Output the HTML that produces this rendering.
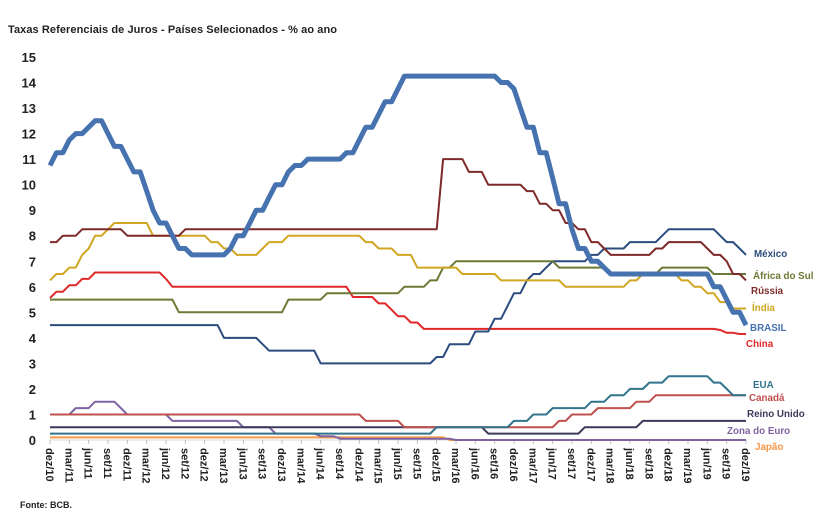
<!DOCTYPE html>
<html><head><meta charset="utf-8">
<style>
html,body{margin:0;padding:0;background:#fff;}
svg{display:block;font-family:"Liberation Sans",sans-serif;}
</style></head>
<body>
<svg id="chart" width="828" height="523" viewBox="0 0 828 523">
<text x="8" y="33" font-size="11" font-weight="bold" fill="#222" textLength="329">Taxas Referenciais de Juros - Países Selecionados - % ao ano</text>
<text x="20" y="508" font-size="9" font-weight="bold" fill="#222">Fonte: BCB.</text>
<g id="yaxis"></g>
<g id="xaxis"></g>
<g id="series"></g>
<g id="labels"></g>
</svg>
<script>
const months = ["dez","jan","fev","mar","abr","mai","jun","jul","ago","set","out","nov"];
const yTicks = [0,1,2,3,4,5,6,7,8,9,10,11,12,13,14,15];

const brasil = [10.75,
11.25,11.25,11.75,12,12,12.25,12.5,12.5,12,11.5,11.5,11,
10.5,10.5,9.75,9,8.5,8.5,8,7.5,7.5,7.25,7.25,7.25,
7.25,7.25,7.25,7.5,8,8,8.5,9,9,9.5,10,10,
10.5,10.75,10.75,11,11,11,11,11,11,11.25,11.25,11.75,
12.25,12.25,12.75,13.25,13.25,13.75,14.25,14.25,14.25,14.25,14.25,14.25,
14.25,14.25,14.25,14.25,14.25,14.25,14.25,14.25,14.25,14,14,13.75,
13,12.25,12.25,11.25,11.25,10.25,9.25,9.25,8.25,7.5,7.5,7,
7,6.75,6.5,6.5,6.5,6.5,6.5,6.5,6.5,6.5,6.5,6.5,
6.5,6.5,6.5,6.5,6.5,6.5,6,6,5.5,5,5,4.5];

const russia = [7.75,
7.75,8,8,8,8.25,8.25,8.25,8.25,8.25,8.25,8.25,8,
8,8,8,8,8,8,8,8,8.25,8.25,8.25,8.25,
8.25,8.25,8.25,8.25,8.25,8.25,8.25,8.25,8.25,8.25,8.25,8.25,
8.25,8.25,8.25,8.25,8.25,8.25,8.25,8.25,8.25,8.25,8.25,8.25,
8.25,8.25,8.25,8.25,8.25,8.25,8.25,8.25,8.25,8.25,8.25,8.25,
11,11,11,11,10.5,10.5,10.5,10,10,10,10,10,
10,9.75,9.75,9.25,9.25,9,9,8.5,8.5,8.25,8.25,7.75,
7.75,7.5,7.25,7.25,7.25,7.25,7.25,7.25,7.25,7.5,7.5,7.75,
7.75,7.75,7.75,7.75,7.75,7.5,7.25,7.25,7,6.5,6.5,6.25];

const india = [6.25,
6.5,6.5,6.75,6.75,7.25,7.5,8,8,8.25,8.5,8.5,8.5,
8.5,8.5,8.5,8,8,8,8,8,8,8,8,8,
7.75,7.75,7.5,7.5,7.25,7.25,7.25,7.25,7.5,7.75,7.75,7.75,
8,8,8,8,8,8,8,8,8,8,8,8,
7.75,7.75,7.5,7.5,7.5,7.25,7.25,7.25,6.75,6.75,6.75,6.75,
6.75,6.75,6.75,6.5,6.5,6.5,6.5,6.5,6.5,6.25,6.25,6.25,
6.25,6.25,6.25,6.25,6.25,6.25,6.25,6,6,6,6,6,
6,6,6,6,6,6.25,6.25,6.5,6.5,6.5,6.5,6.5,
6.5,6.25,6.25,6,6,5.75,5.75,5.4,5.4,5.15,5.15,5.15];

const china = [5.56,
5.81,5.81,6.06,6.06,6.31,6.31,6.56,6.56,6.56,6.56,6.56,6.56,
6.56,6.56,6.56,6.56,6.56,6.31,6,6,6,6,6,6,
6,6,6,6,6,6,6,6,6,6,6,6,
6,6,6,6,6,6,6,6,6,6,5.6,5.6,
5.6,5.6,5.35,5.35,5.1,4.85,4.85,4.6,4.6,4.35,4.35,4.35,
4.35,4.35,4.35,4.35,4.35,4.35,4.35,4.35,4.35,4.35,4.35,4.35,
4.35,4.35,4.35,4.35,4.35,4.35,4.35,4.35,4.35,4.35,4.35,4.35,
4.35,4.35,4.35,4.35,4.35,4.35,4.35,4.35,4.35,4.35,4.35,4.35,
4.35,4.35,4.35,4.35,4.35,4.35,4.35,4.31,4.2,4.2,4.15,4.15];

const africa = [5.5,
5.5,5.5,5.5,5.5,5.5,5.5,5.5,5.5,5.5,5.5,5.5,5.5,
5.5,5.5,5.5,5.5,5.5,5.5,5.5,5,5,5,5,5,
5,5,5,5,5,5,5,5,5,5,5,5,
5.5,5.5,5.5,5.5,5.5,5.5,5.75,5.75,5.75,5.75,5.75,5.75,
5.75,5.75,5.75,5.75,5.75,5.75,6,6,6,6,6.25,6.25,
6.75,6.75,7,7,7,7,7,7,7,7,7,7,
7,7,7,7,7,7,6.75,6.75,6.75,6.75,6.75,6.75,
6.75,6.75,6.5,6.5,6.5,6.5,6.5,6.5,6.5,6.5,6.75,6.75,
6.75,6.75,6.75,6.75,6.75,6.75,6.5,6.5,6.5,6.5,6.5,6.5];

const mexico = [4.5,
4.5,4.5,4.5,4.5,4.5,4.5,4.5,4.5,4.5,4.5,4.5,4.5,
4.5,4.5,4.5,4.5,4.5,4.5,4.5,4.5,4.5,4.5,4.5,4.5,
4.5,4.5,4,4,4,4,4,4,3.75,3.5,3.5,3.5,
3.5,3.5,3.5,3.5,3.5,3,3,3,3,3,3,3,
3,3,3,3,3,3,3,3,3,3,3,3.25,
3.25,3.75,3.75,3.75,3.75,4.25,4.25,4.25,4.75,4.75,5.25,5.75,
5.75,6.25,6.5,6.5,6.75,7,7,7,7,7,7,7.25,
7.25,7.5,7.5,7.5,7.5,7.75,7.75,7.75,7.75,7.75,8,8.25,
8.25,8.25,8.25,8.25,8.25,8.25,8.25,8,7.75,7.75,7.5,7.25];

const eua = [0.25,
0.25,0.25,0.25,0.25,0.25,0.25,0.25,0.25,0.25,0.25,0.25,0.25,
0.25,0.25,0.25,0.25,0.25,0.25,0.25,0.25,0.25,0.25,0.25,0.25,
0.25,0.25,0.25,0.25,0.25,0.25,0.25,0.25,0.25,0.25,0.25,0.25,
0.25,0.25,0.25,0.25,0.25,0.25,0.25,0.25,0.25,0.25,0.25,0.25,
0.25,0.25,0.25,0.25,0.25,0.25,0.25,0.25,0.25,0.25,0.25,0.5,
0.5,0.5,0.5,0.5,0.5,0.5,0.5,0.5,0.5,0.5,0.5,0.75,
0.75,0.75,1,1,1,1.25,1.25,1.25,1.25,1.25,1.25,1.5,
1.5,1.5,1.75,1.75,1.75,2,2,2,2.25,2.25,2.25,2.5,
2.5,2.5,2.5,2.5,2.5,2.5,2.25,2.25,2,1.75,1.75,1.75];

const canada = [1,
1,1,1,1,1,1,1,1,1,1,1,1,
1,1,1,1,1,1,1,1,1,1,1,1,
1,1,1,1,1,1,1,1,1,1,1,1,
1,1,1,1,1,1,1,1,1,1,1,1,
0.75,0.75,0.75,0.75,0.75,0.75,0.5,0.5,0.5,0.5,0.5,0.5,
0.5,0.5,0.5,0.5,0.5,0.5,0.5,0.5,0.5,0.5,0.5,0.5,
0.5,0.5,0.5,0.5,0.5,0.5,0.75,0.75,1,1,1,1,
1.25,1.25,1.25,1.25,1.25,1.25,1.5,1.5,1.5,1.75,1.75,1.75,
1.75,1.75,1.75,1.75,1.75,1.75,1.75,1.75,1.75,1.75,1.75,1.75];

const reinoUnido = [0.5,
0.5,0.5,0.5,0.5,0.5,0.5,0.5,0.5,0.5,0.5,0.5,0.5,
0.5,0.5,0.5,0.5,0.5,0.5,0.5,0.5,0.5,0.5,0.5,0.5,
0.5,0.5,0.5,0.5,0.5,0.5,0.5,0.5,0.5,0.5,0.5,0.5,
0.5,0.5,0.5,0.5,0.5,0.5,0.5,0.5,0.5,0.5,0.5,0.5,
0.5,0.5,0.5,0.5,0.5,0.5,0.5,0.5,0.5,0.5,0.5,0.5,
0.5,0.5,0.5,0.5,0.5,0.5,0.5,0.25,0.25,0.25,0.25,0.25,
0.25,0.25,0.25,0.25,0.25,0.25,0.25,0.25,0.25,0.25,0.5,0.5,
0.5,0.5,0.5,0.5,0.5,0.5,0.5,0.75,0.75,0.75,0.75,0.75,
0.75,0.75,0.75,0.75,0.75,0.75,0.75,0.75,0.75,0.75,0.75,0.75];

const zonaEuro = [1,
1,1,1,1.25,1.25,1.25,1.5,1.5,1.5,1.5,1.25,1,
1,1,1,1,1,1,0.75,0.75,0.75,0.75,0.75,0.75,
0.75,0.75,0.75,0.75,0.75,0.5,0.5,0.5,0.5,0.5,0.25,0.25,
0.25,0.25,0.25,0.25,0.25,0.15,0.15,0.15,0.05,0.05,0.05,0.05,
0.05,0.05,0.05,0.05,0.05,0.05,0.05,0.05,0.05,0.05,0.05,0.05,
0.05,0.05,0,0,0,0,0,0,0,0,0,0,
0,0,0,0,0,0,0,0,0,0,0,0,
0,0,0,0,0,0,0,0,0,0,0,0,
0,0,0,0,0,0,0,0,0,0,0,0];

const japao = [0.1,
0.1,0.1,0.1,0.1,0.1,0.1,0.1,0.1,0.1,0.1,0.1,0.1,
0.1,0.1,0.1,0.1,0.1,0.1,0.1,0.1,0.1,0.1,0.1,0.1,
0.1,0.1,0.1,0.1,0.1,0.1,0.1,0.1,0.1,0.1,0.1,0.1,
0.1,0.1,0.1,0.1,0.1,0.1,0.1,0.1,0.1,0.1,0.1,0.1,
0.1,0.1,0.1,0.1,0.1,0.1,0.1,0.1,0.1,0.1,0.1,0.1,
0.1,0,0,0,0,0,0,0,0,0,0,0,
0,0,0,0,0,0,0,0,0,0,0,0,
0,0,0,0,0,0,0,0,0,0,0,0,
0,0,0,0,0,0,0,0,0,0,0,0];

const seriesDefs = [
 {name:"japao", label:"Japão", data:japao, color:"#f79646", w:2, lx:755, ly:450},
 {name:"zona-do-euro", label:"Zona do Euro", data:zonaEuro, color:"#8064a2", w:2, lx:727, ly:434},
 {name:"reino-unido", label:"Reino Unido", data:reinoUnido, color:"#3c3a5a", w:2, lx:747, ly:417},
 {name:"canada", label:"Canadá", data:canada, color:"#c0504d", w:2, lx:749, ly:401},
 {name:"eua", label:"EUA", data:eua, color:"#31748c", w:2, lx:753, ly:388},
 {name:"china", label:"China", data:china, color:"#e02828", w:2, lx:746, ly:347},
 {name:"mexico", label:"México", data:mexico, color:"#2b4c7e", w:2, lx:754, ly:257},
 {name:"africa-do-sul", label:"África do Sul", data:africa, color:"#6b7a36", w:2, lx:753, ly:279},
 {name:"india", label:"Índia", data:india, color:"#d1a623", w:2, lx:752, ly:311},
 {name:"russia", label:"Rússia", data:russia, color:"#7f2a2a", w:2, lx:751, ly:294},
 {name:"brasil", label:"BRASIL", data:brasil, color:"#4673b0", w:5, lx:750, ly:331}
];

const X0 = 50, X1 = 746, Y0 = 440, Y15 = 57;
const N = brasil.length - 1;
function xs(i){ return X0 + (X1 - X0) * i / N; }
function ys(v){ return Y0 - (Y0 - Y15) * v / 15; }
const NS = "http://www.w3.org/2000/svg";
function mk(tag, attrs, parent){
  const e = document.createElementNS(NS, tag);
  for (const k in attrs) e.setAttribute(k, attrs[k]);
  parent.appendChild(e);
  return e;
}
const yaxis = document.getElementById("yaxis");
yTicks.forEach(v=>{
  const t = mk("text",{x:36,y:ys(v)+5,"text-anchor":"end","font-size":"13","font-weight":"bold",fill:"#222"},yaxis);
  
  
  t.textContent = v;
});
const xaxis = document.getElementById("xaxis");
const axl = mk("line",{x1:X0,y1:Y0,x2:X1,y2:Y0,stroke:"#d9d9d9","stroke-width":1},xaxis);


for (let i=0;i<=N;i+=3){
  const yr = 10 + Math.floor((i+11)/12);
  const lab = months[i%12] + "/" + yr;
  const tk = mk("line",{x1:xs(i),y1:Y0,x2:xs(i),y2:Y0+4,stroke:"#bfbfbf","stroke-width":1},xaxis);
  
  
  const t = mk("text",{x:0,y:0,"font-size":"11","font-weight":"bold",fill:"#222",transform:`translate(${xs(i)-4},${Y0+8}) rotate(90)`},xaxis);
  
  
  t.textContent = lab;
}
const sg = document.getElementById("series");
const lg = document.getElementById("labels");
seriesDefs.forEach(s=>{
  const pts = s.data.map((v,i)=>xs(i).toFixed(1)+","+ys(v).toFixed(1)).join(" ");
  const p = mk("polyline",{points:pts,fill:"none",stroke:s.color,"stroke-width":s.w,"stroke-linejoin":"round"},sg);
  
  
  const t = mk("text",{x:s.lx,y:s.ly,"font-size":"9.8","font-weight":"bold",fill:s.color},lg);
  
  
  t.textContent = s.label;
});
</script>
</body></html>
